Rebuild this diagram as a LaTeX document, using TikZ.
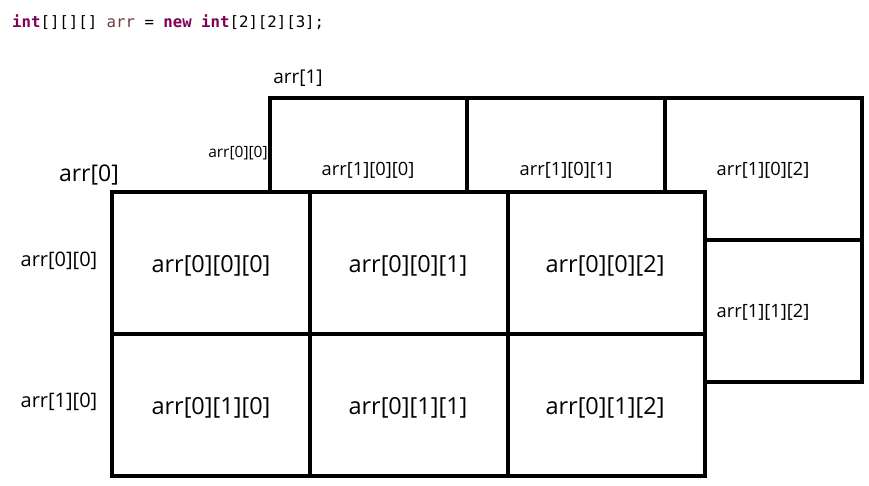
\documentclass[tikz,border=0pt]{standalone}
\usepackage{fontspec}
\setmainfont{Open Sans}
\setmonofont{DejaVu Sans Mono}
\definecolor{kw}{HTML}{7F0055}
\definecolor{var}{HTML}{6A3E3E}
\begin{document}
\begin{tikzpicture}[x=1pt,y=-1pt,
  grid/.style={line width=3.2pt,line cap=rect},
  big/.style={font=\fontsize{23.5}{26}\selectfont,inner sep=0pt},
  head/.style={font=\fontsize{23}{26}\selectfont,inner sep=0pt},
  mid/.style={font=\fontsize{19}{22}\selectfont,inner sep=0pt},
  side/.style={font=\fontsize{20}{23}\selectfont,inner sep=0pt},
  sml/.style={font=\fontsize{18.3}{21}\selectfont,inner sep=0pt},
  tiny/.style={font=\fontsize{15.5}{18}\selectfont,inner sep=0pt}]
\useasboundingbox (0,0) rectangle (869,486);
% code line
\node[anchor=west,inner sep=0pt,font=\ttfamily\fontsize{15.7}{18}\selectfont] (code) at (12,22)
 {\textcolor{kw}{\textbf{int}}[][][] \textcolor{var}{arr} = \textcolor{kw}{\textbf{new}} \textcolor{kw}{\textbf{int}}[2][2][3];};
% back grid (arr[1]) visible parts
\draw[grid] (270,192) -- (270,98) -- (862,98) -- (862,382) -- (705,382);
\draw[grid] (467,98) -- (467,192);
\draw[grid] (665,98) -- (665,192);
\draw[grid] (705,240) -- (862,240);
% front grid (arr[0])
\draw[grid] (112,192) rectangle (705,476);
\draw[grid] (310,192) -- (310,476);
\draw[grid] (508,192) -- (508,476);
\draw[grid] (112,334) -- (705,334);
% labels
\node[mid] (l1) at (298,78) {arr[1]};
\node[head] (l0) at (89,175) {arr[0]};
\node[tiny] (s00) at (238,153) {arr[0][0]};
\node[side] (a00) at (59,261) {arr[0][0]};
\node[side] (a10) at (59,402) {arr[1][0]};
\node[sml] (b100) at (368,170) {arr[1][0][0]};
\node[sml] (b101) at (566,170) {arr[1][0][1]};
\node[sml] (b102) at (763,170) {arr[1][0][2]};
\node[sml] (b112) at (763,312) {arr[1][1][2]};
\node[big] (f000) at (211,266) {arr[0][0][0]};
\node[big] (f001) at (408,266) {arr[0][0][1]};
\node[big] (f002) at (605,266) {arr[0][0][2]};
\node[big] (f010) at (211,408) {arr[0][1][0]};
\node[big] (f011) at (408,408) {arr[0][1][1]};
\node[big] (f012) at (605,408) {arr[0][1][2]};
\end{tikzpicture}
\end{document}
